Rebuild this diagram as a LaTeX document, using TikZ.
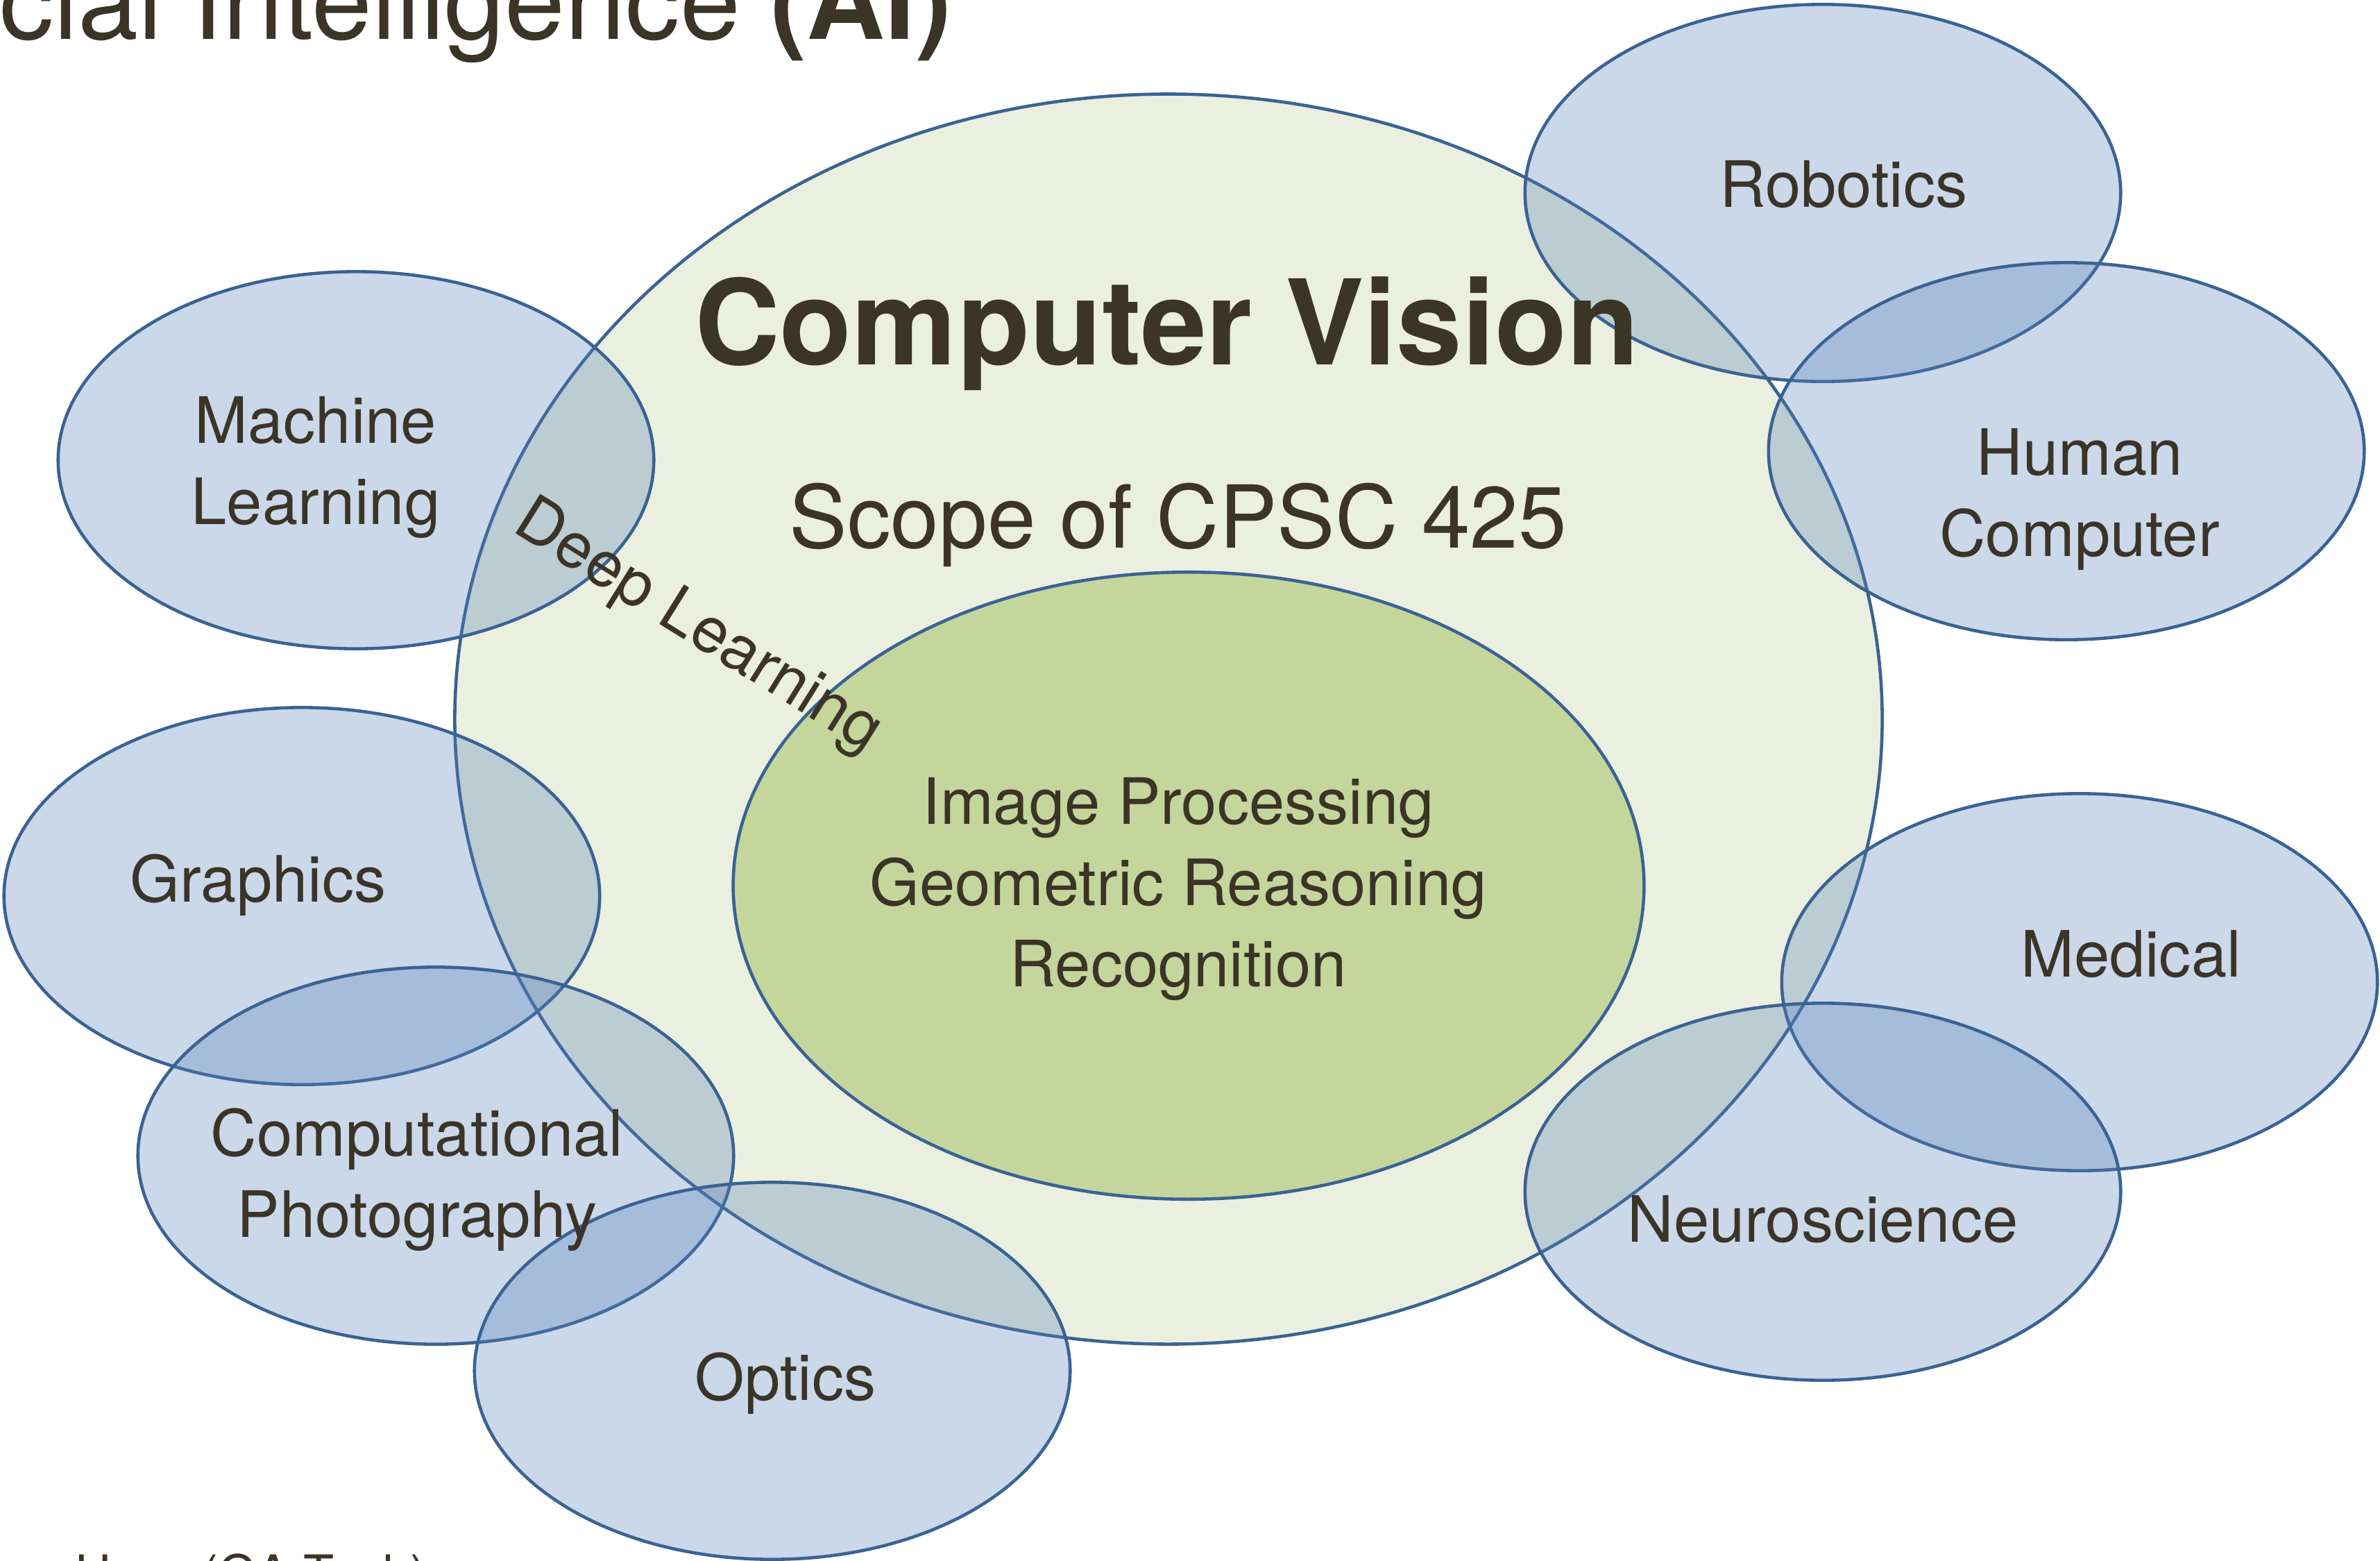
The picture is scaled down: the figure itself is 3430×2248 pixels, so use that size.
\documentclass[tikz,border=0pt]{standalone}
\usepackage{fontspec}
\setmainfont{TeX Gyre Heros}
\usetikzlibrary{shapes.geometric}
\definecolor{ink}{HTML}{3B3427}
\definecolor{edge}{HTML}{3A6394}
\definecolor{cvfill}{HTML}{EAEFDF}
\definecolor{corefill}{HTML}{C4D69B}
\definecolor{bluefill}{HTML}{527EBA}
\begin{document}
\begin{tikzpicture}[x=0.01cm,y=-0.01cm,
  ring/.style={ellipse, draw=edge, line width=1.3pt, inner sep=0pt, outer sep=0pt},
  field/.style={ring, fill=bluefill, fill opacity=0.3, minimum width=8.58cm, minimum height=5.43cm},
  lbl/.style={text=ink, font=\fontsize{26.2}{33}\selectfont, align=center, inner sep=0pt, anchor=base},
]
\fill[white] (0,0) rectangle (3430,2248);
\useasboundingbox (0,0) rectangle (3430,2248);
\clip (0,0) rectangle (3430,2248);

% main regions
\node[ring, fill=cvfill, minimum width=20.56cm, minimum height=18.0cm] (cv) at (1684,1036) {};
\node[ring, fill=corefill, minimum width=13.12cm, minimum height=9.03cm] (core) at (1713,1276) {};

% neighbouring fields
\node[field] (rob) at (2627,278) {};
\node[field] (hci) at (2978,650) {};
\node[field] (ml)  at (513,663) {};
\node[field] (gfx) at (435,1291) {};
\node[field] (cph) at (628,1665) {};
\node[field] (opt) at (1113,1975) {};
\node[field] (med) at (2997,1415) {};
\node[field] (neu) at (2627,1717) {};

% titles
\node[text=ink, font=\fontsize{44.5}{50}\selectfont, anchor=base east, inner sep=0pt] (title) at (1372,56) {Artificial Intelligence \textbf{(AI)}};
\node[text=ink, font=\fontsize{48.4}{56}\selectfont\bfseries, anchor=base, inner sep=0pt] (cvtitle) at (1682,525) {Computer Vision};
\node[text=ink, font=\fontsize{35.6}{42}\selectfont, anchor=base, inner sep=0pt] (scope) at (1698,789) {Scope of CPSC 425};

% core topics
\node[lbl] (ip) at (1698,1187) {Image Processing};
\node[lbl] (gr) at (1698,1304) {Geometric Reasoning};
\node[lbl] (rec) at (1698,1421) {Recognition};

% field labels (base anchor = baseline of last line)
\node[lbl] (robl) at (2657,298) {Robotics};
\node[lbl] (hcil) at (2997,801) {Human\\Computer};
\node[lbl] (mll) at (455,755) {Machine\\Learning};
\node[lbl] (gfxl) at (372,1299) {Graphics};
\node[lbl] (cphl) at (601,1782) {Computational\\Photography};
\node[lbl] (optl) at (1132,2017) {Optics};
\node[lbl] (medl) at (3071,1407) {Medical};
\node[lbl] (neul) at (2627,1789) {Neuroscience};

\node[text=ink, font=\fontsize{26.2}{33}\selectfont, inner sep=0pt, rotate=-32] (dl) at (1005,905) {Deep Learning};

% credit
\node[text=ink, font=\fontsize{20.5}{24}\selectfont, anchor=base east, inner sep=0pt] (credit) at (616,2292) {James Hays (GA Tech)};
\end{tikzpicture}
\end{document}
